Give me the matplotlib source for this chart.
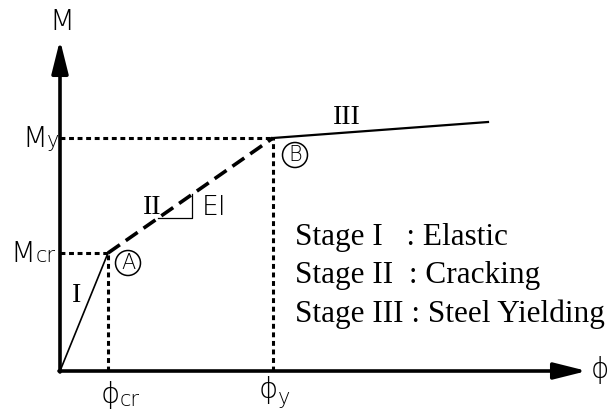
import matplotlib
matplotlib.use("Agg")
import matplotlib.pyplot as plt

# Trilinear moment-curvature model (arbitrary units)
phi_pts = [0, 48, 213, 428]      # origin, phi_cr, phi_y, end of stage III
m_pts = [0, 118, 233, 249]       # origin, M_cr, M_y, end of stage III
axis_end = [527, 331]            # arrow tips of phi and M axes

stages = ["Stage I   : Elastic", "Stage II  : Cracking", "Stage III : Steel Yielding"]

SANS = "DejaVu Sans"
SERIF = "Liberation Serif"

fig = plt.figure(figsize=(6.11, 4.11), dpi=100)
ax = fig.add_axes([0, 0, 1, 1])
ax.set_xlim(-60, 551)
ax.set_ylim(-40, 371)
ax.axis("off")

# axes with arrow heads
arrow = dict(arrowstyle="-|>,head_length=1.0,head_width=0.25", lw=2.6,
             color="k", mutation_scale=20, shrinkA=0, shrinkB=0)
ax.annotate("", xy=(axis_end[0], 0), xytext=(-1, 0), arrowprops=arrow)
ax.annotate("", xy=(0, axis_end[1]), xytext=(0, -1), arrowprops=arrow)

# stage I, II, III branches
ax.plot(phi_pts[0:2], m_pts[0:2], color="k", lw=1.2)
ax.plot(phi_pts[1:3], m_pts[1:3], color="k", lw=2.6, dashes=(4, 2))
ax.plot(phi_pts[2:4], m_pts[2:4], color="k", lw=1.6)

# projection lines to the axes
for p, m in [(phi_pts[1], m_pts[1]), (phi_pts[2], m_pts[2])]:
    ax.plot([0, p], [m, m], color="k", lw=2.2, dashes=(1.6, 1.2))
    ax.plot([p, p], [0, m], color="k", lw=2.2, dashes=(1.6, 1.2))

# slope triangle on stage II
slope = (m_pts[2] - m_pts[1]) / (phi_pts[2] - phi_pts[1])
x0, x1 = 98, 132
y0 = m_pts[1] + slope * (x0 - phi_pts[1])
y1 = m_pts[1] + slope * (x1 - phi_pts[1])
ax.plot([x0, x1, x1], [y0, y0, y1], color="k", lw=0.9)
ax.text(x1 + 10, (y0 + y1) / 2 - 1, "EI", family=SANS, fontweight="light",
        fontsize=19, ha="left", va="center")

# axis labels
ax.text(2, 349, "M", family=SANS, fontweight="light", fontsize=21, ha="center", va="center")
ax.text(549, 1, "ϕ", family=SANS, fontweight="light", fontsize=20, ha="right", va="center")

ax.text(-13, 224, "M", family=SANS, fontweight="light", fontsize=21, ha="right", va="baseline")
ax.text(-13, 224, "y", family=SANS, fontweight="light", fontsize=15, ha="left", va="baseline")
ax.text(-25, 109, "M", family=SANS, fontweight="light", fontsize=21, ha="right", va="baseline")
ax.text(-24, 109, "cr", family=SANS, fontweight="light", fontsize=15, ha="left", va="baseline")

ax.text(phi_pts[1] + 2, -24, "ϕ", family=SANS, fontweight="light", fontsize=21, ha="center", va="center")
ax.text(phi_pts[1] + 12, -29, "cr", family=SANS, fontweight="light", fontsize=15, ha="left", va="center")
ax.text(phi_pts[2] - 5, -19, "ϕ", family=SANS, fontweight="light", fontsize=21, ha="center", va="center")
ax.text(phi_pts[2] + 5, -27, "y", family=SANS, fontweight="light", fontsize=15, ha="left", va="center")

# stage numerals
ax.text(17, 76, "I", family=SERIF, fontsize=20, ha="center", va="center")
ax.text(92, 164, "II", family=SERIF, fontsize=20, ha="center", va="center")
ax.text(287, 254, "III", family=SERIF, fontsize=20, ha="center", va="center")

# circled points A and B
circ = dict(boxstyle="circle,pad=0.12", fc="none", ec="k", lw=1.1)
ax.text(68, 108, "A", family=SANS, fontweight="light", fontsize=15, ha="center", va="center", bbox=circ)
ax.text(235, 216, "B", family=SANS, fontweight="light", fontsize=15, ha="center", va="center", bbox=circ)

# legend of stages
for i, s in enumerate(stages):
    ax.text(235, 126 - 38.5 * i, s, family=SERIF, fontsize=22.5, ha="left", va="baseline")

fig.savefig("out.png", dpi=100)
